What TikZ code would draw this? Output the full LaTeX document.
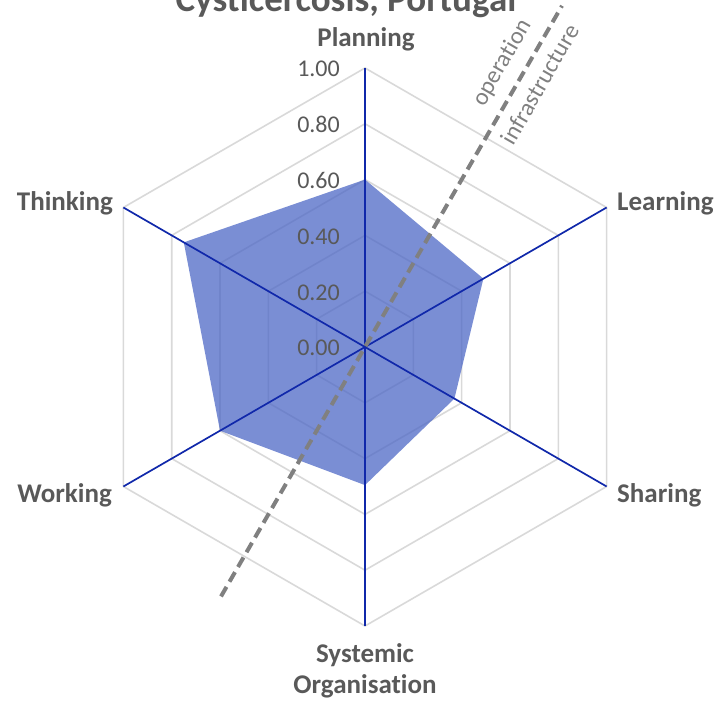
\documentclass[tikz,border=0pt]{standalone}
\usepackage{fontspec}
\setmainfont[Ligatures=NoCommon]{Carlito}
\usetikzlibrary{calc}
\definecolor{axisblue}{RGB}{16,40,170}
\definecolor{gridgray}{RGB}{217,217,217}
\definecolor{txtgray}{RGB}{89,89,89}
\definecolor{serblue}{RGB}{78,104,198}
\definecolor{dashgray}{RGB}{128,128,128}
\begin{document}
\begin{tikzpicture}[x=1pt,y=1pt,
  gridline/.style={draw=gridgray,line width=1.6pt},
  axisline/.style={draw=axisblue,line width=1.7pt},
  axlabel/.style={font=\fontsize{27}{32}\selectfont\bfseries,text=txtgray,inner sep=0pt},
  ticklabel/.style={font=\fontsize{24}{28}\selectfont,text=txtgray,inner sep=0pt,anchor=base east},
  divlabel/.style={font=\fontsize{24}{28}\selectfont,text=dashgray,inner sep=0pt,rotate=60},
  divline/.style={draw=dashgray,line width=4pt,dash pattern=on 11pt off 6pt},
  series/.style={fill=serblue,fill opacity=0.75},
  titlestyle/.style={font=\fontsize{37}{42}\selectfont\bfseries,text=txtgray,inner sep=0pt}
]
\useasboundingbox (0,0) rectangle (720,707);
\coordinate (O) at (365,360);
% grid hexagons
\foreach \v in {0.2,0.4,0.6,0.8,1.0}{
  \pgfmathsetmacro\r{\v*279}
  \draw[gridline,shift={(O)}] (90:\r) -- (30:\r) -- (-30:\r) -- (-90:\r) -- (-150:\r) -- (150:\r) -- cycle;
}
% series
\fill[series,shift={(O)}] (90:{0.60*279}) -- (30:{0.49*279}) -- (-30:{0.37*279}) -- (-90:{0.495*279}) -- (-150:{0.60*279}) -- (150:{0.75*279}) -- cycle;
% axes
\coordinate (aPl) at ($(O)+(90:279)$);
\coordinate (aLe) at ($(O)+(30:279)$);
\coordinate (aSh) at ($(O)+(-30:279)$);
\coordinate (aSy) at ($(O)+(-90:279)$);
\coordinate (aWo) at ($(O)+(-150:279)$);
\coordinate (aTh) at ($(O)+(150:279)$);
\foreach \a in {aPl,aLe,aSh,aSy,aWo,aTh} \draw[axisline] (O) -- (\a);
% dividing line
\coordinate (d1) at ($(O)+(60:394)$);
\coordinate (d2) at ($(O)+(240:288)$);
\draw[divline] (d2) -- (d1);
\node[divlabel] (op) at ($(O)+(60:315)+(150:23)$) {operation};
\node[divlabel] (inf) at ($(O)+(60:315)+(-30:20)$) {infrastructure};
% tick labels
\foreach \i/\v/\t in {0/0/0.00,1/0.2/0.20,2/0.4/0.40,3/0.6/0.60,4/0.8/0.80,5/1.0/1.00}
  \node[ticklabel] (t\i) at (340,{360+\v*279-9}) {\t};
% axis labels
\node[axlabel,anchor=base] (lPl) at (366,660) {Planning};
\node[axlabel,anchor=base west] (lLe) at (617,496) {Learning};
\node[axlabel,anchor=base west] (lSh) at (617,204) {Sharing};
\node[axlabel,anchor=base east] (lTh) at (113,496) {Thinking};
\node[axlabel,anchor=base east] (lWo) at (112,204) {Working};
\node[axlabel,anchor=base] (lSy1) at (365,45) {Systemic};
\node[axlabel,anchor=base] (lSy2) at (365,14) {Organisation};
% title
\node[titlestyle,anchor=base] (title) at (346,695) {Cysticercosis, Portugal};
\end{tikzpicture}
\end{document}
